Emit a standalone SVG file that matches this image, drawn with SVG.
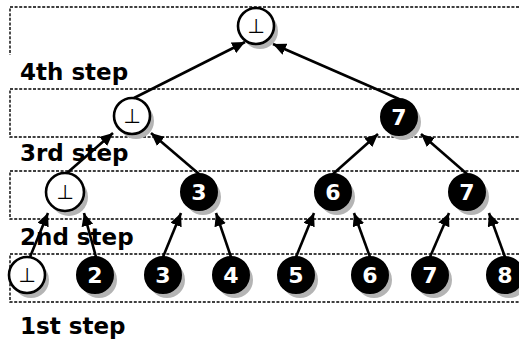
<svg xmlns="http://www.w3.org/2000/svg" width="519" height="342" viewBox="0 0 519 342">
<style>
.row{fill:none;stroke:#000;stroke-width:1.4;stroke-dasharray:3 1.6}
.lbl{font-family:"DejaVu Sans",Verdana,sans-serif;font-weight:bold;font-size:23px;fill:#000}
.sh{fill:#b4b4b4}
.wn{fill:#fff;stroke:#000;stroke-width:2.6}
.bn{fill:#000;stroke:#000;stroke-width:2}
.wt{font-family:"DejaVu Sans",sans-serif;font-size:20px;fill:#000;text-anchor:middle}
.bt{font-family:"DejaVu Sans",sans-serif;font-weight:bold;font-size:22px;fill:#fff;text-anchor:middle}
.cn{stroke:#000;stroke-width:2.6;fill:none;marker-end:url(#ah)}
</style>
<defs>
<marker id="ah" markerUnits="userSpaceOnUse" markerWidth="14" markerHeight="12" refX="13" refY="6" orient="auto">
<path d="M0,0 L13,6 L0,12 Z" fill="#000"/>
</marker>
</defs>
<rect width="519" height="342" fill="#fff"/>
<g id="rows">
<path class="row" d="M519,7 H10 V55"/>
<path class="row" d="M519,89 H10 V137 H519"/>
<path class="row" d="M519,171 H10 V219 H519"/>
<path class="row" d="M519,254 H10 V302 H519"/>
</g>
<g id="labels">
<text class="lbl" x="20" y="80">4th step</text>
<text class="lbl" x="20" y="161">3rd step</text>
<text class="lbl" x="20" y="245">2nd step</text>
<text class="lbl" x="20" y="334">1st step</text>
</g>
<g id="n4-root"><circle class="sh" cx="260" cy="31" r="18"/><circle class="wn" cx="256" cy="26" r="18"/><text class="wt" x="256" y="33">⊥</text></g>
<g id="n3-a"><circle class="sh" cx="136" cy="121" r="18"/><circle class="wn" cx="132" cy="116" r="18"/><text class="wt" x="132" y="123">⊥</text></g>
<g id="n3-b"><circle class="sh" cx="403" cy="122" r="18"/><circle class="bn" cx="399" cy="117" r="18"/><text class="bt" x="399" y="125">7</text></g>
<g id="n2-a"><circle class="sh" cx="69" cy="197" r="19"/><circle class="wn" cx="65" cy="192" r="19"/><text class="wt" x="65" y="199">⊥</text></g>
<g id="n2-b"><circle class="sh" cx="203" cy="197" r="18"/><circle class="bn" cx="199" cy="192" r="18"/><text class="bt" x="199" y="200">3</text></g>
<g id="n2-c"><circle class="sh" cx="337" cy="197" r="18"/><circle class="bn" cx="333" cy="192" r="18"/><text class="bt" x="333" y="200">6</text></g>
<g id="n2-d"><circle class="sh" cx="471" cy="197" r="18"/><circle class="bn" cx="467" cy="192" r="18"/><text class="bt" x="467" y="200">7</text></g>
<g id="n1-1"><circle class="sh" cx="31" cy="280" r="18"/><circle class="wn" cx="27" cy="275" r="18"/><text class="wt" x="27" y="282">⊥</text></g>
<g id="n1-2"><circle class="sh" cx="99" cy="280" r="18"/><circle class="bn" cx="95" cy="275" r="18"/><text class="bt" x="95" y="283">2</text></g>
<g id="n1-3"><circle class="sh" cx="167" cy="280" r="18"/><circle class="bn" cx="163" cy="275" r="18"/><text class="bt" x="163" y="283">3</text></g>
<g id="n1-4"><circle class="sh" cx="235" cy="280" r="18"/><circle class="bn" cx="231" cy="275" r="18"/><text class="bt" x="231" y="283">4</text></g>
<g id="n1-5"><circle class="sh" cx="300" cy="280" r="18"/><circle class="bn" cx="296" cy="275" r="18"/><text class="bt" x="296" y="283">5</text></g>
<g id="n1-6"><circle class="sh" cx="374" cy="280" r="18"/><circle class="bn" cx="370" cy="275" r="18"/><text class="bt" x="370" y="283">6</text></g>
<g id="n1-7"><circle class="sh" cx="434" cy="280" r="18"/><circle class="bn" cx="430" cy="275" r="18"/><text class="bt" x="430" y="283">7</text></g>
<g id="n1-8"><circle class="sh" cx="509" cy="280" r="18"/><circle class="bn" cx="505" cy="275" r="18"/><text class="bt" x="505" y="283">8</text></g>
<g id="connectors">
<line class="cn" x1="134" y1="98" x2="245" y2="42"/>
<line class="cn" x1="399" y1="99" x2="273" y2="44"/>
<line class="cn" x1="67" y1="173" x2="113" y2="133"/>
<line class="cn" x1="199" y1="174" x2="151" y2="133"/>
<line class="cn" x1="333" y1="174" x2="378" y2="134"/>
<line class="cn" x1="467" y1="174" x2="421" y2="134"/>
<line class="cn" x1="30" y1="257" x2="48" y2="213"/>
<line class="cn" x1="96" y1="257" x2="84" y2="213"/>
<line class="cn" x1="163" y1="257" x2="181" y2="213"/>
<line class="cn" x1="231" y1="257" x2="216" y2="213"/>
<line class="cn" x1="296" y1="257" x2="314" y2="213"/>
<line class="cn" x1="370" y1="257" x2="354" y2="213"/>
<line class="cn" x1="430" y1="257" x2="449" y2="213"/>
<line class="cn" x1="505" y1="257" x2="489" y2="213"/>
</g>
</svg>
